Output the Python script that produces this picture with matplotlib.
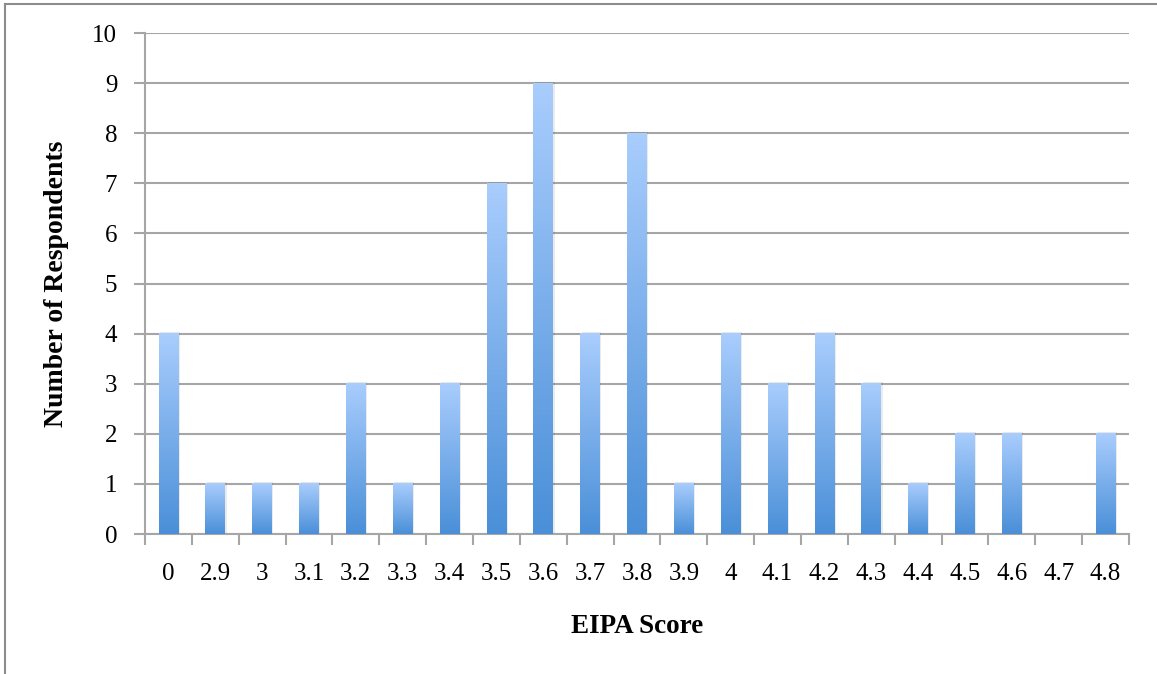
import numpy as np
import matplotlib.pyplot as plt
from matplotlib.colors import LinearSegmentedColormap
from matplotlib.lines import Line2D

# EIPA score distribution
scores = ["0", "2.9", "3", "3.1", "3.2", "3.3", "3.4", "3.5", "3.6", "3.7", "3.8",
          "3.9", "4", "4.1", "4.2", "4.3", "4.4", "4.5", "4.6", "4.7", "4.8"]
counts = [4, 1, 1, 1, 3, 1, 3, 7, 9, 4, 8, 1, 4, 3, 4, 3, 1, 2, 2, 0, 2]

plt.rcParams['font.family'] = ['Liberation Serif', 'DejaVu Serif']

fig = plt.figure(figsize=(11.57, 6.74), dpi=100)
ax = fig.add_axes([0.1253, 0.2077, 0.9758 - 0.1253, 0.951 - 0.2077])

grid_col = "#a6a6a6"
x = np.arange(len(scores))
bars = ax.bar(x, counts, width=0.42, color="none", zorder=3)

# vertical gradient fill, light on top, darker at the base
cmap = LinearSegmentedColormap.from_list("bar", ["#4a8fd8", "#a9cdfd"])
grad = np.linspace(0, 1, 256).reshape(-1, 1)
for b in bars:
    h = b.get_height()
    if h <= 0:
        continue
    x0, w = b.get_x(), b.get_width()
    # soft shadow
    ax.add_patch(plt.Rectangle((x0 + 0.03, 0), w, h + 0.03, color="#000000",
                               alpha=0.08, zorder=2, linewidth=0))
    ax.imshow(grad, extent=(x0, x0 + w, 0, h), origin="lower", cmap=cmap,
              aspect="auto", zorder=3, interpolation="bilinear")

ax.set_xlim(-0.5, len(scores) - 0.5)
ax.set_ylim(0, 10)
ax.set_yticks(range(0, 11))
ax.yaxis.grid(True, color=grid_col, linewidth=1.5, zorder=0)
ax.set_axisbelow(True)

ax.set_xticks(x)
ax.set_xticklabels(scores)
ax.set_xticks(np.arange(-0.5, len(scores)), minor=True)
ax.tick_params(axis="x", which="major", length=0, pad=21, labelsize=18)
ax.tick_params(axis="x", which="minor", length=8, width=1.5, color=grid_col,
               direction="out")
ax.tick_params(axis="y", length=8, width=1.5, color=grid_col, pad=12, labelsize=18)

for side in ["top", "right"]:
    ax.spines[side].set_visible(False)
for side in ["left", "bottom"]:
    ax.spines[side].set_color(grid_col)
    ax.spines[side].set_linewidth(1.5)

ax.set_xlabel("EIPA Score", fontsize=19.5, fontweight="bold", labelpad=21)
ax.set_ylabel("Number of Respondents", fontsize=20, fontweight="bold", labelpad=17)

# chart frame
fig.add_artist(Line2D([5 / 1157, 5 / 1157], [0, 1 - 4 / 674], color="#8c8c8c", lw=1.5))
fig.add_artist(Line2D([5 / 1157, 1], [1 - 4 / 674, 1 - 4 / 674], color="#8c8c8c", lw=1.5))

fig.savefig("out.png", dpi=100)
